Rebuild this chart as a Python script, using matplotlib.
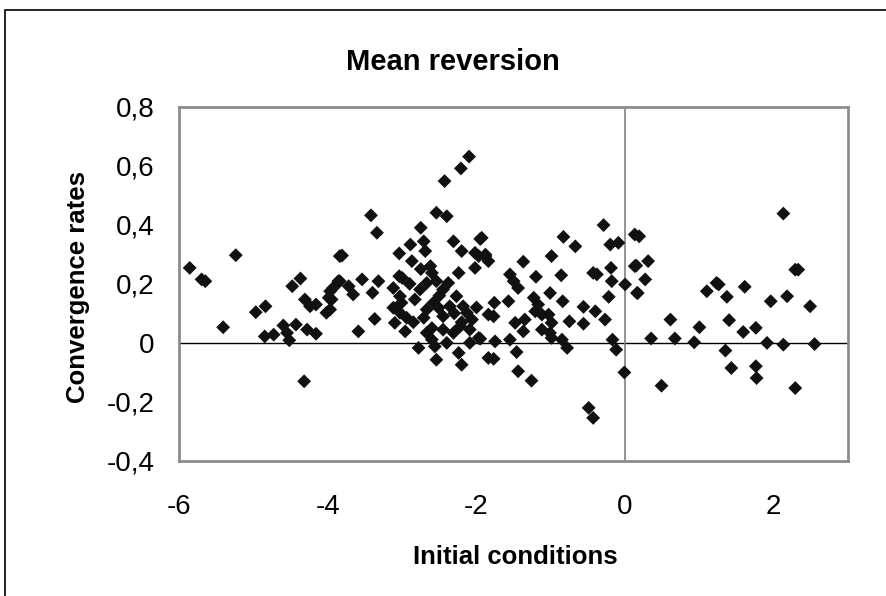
import matplotlib
matplotlib.use("Agg")
import matplotlib.pyplot as plt
from matplotlib.patches import Rectangle

# ---- data ----
x_vals = [
    -5.86, -5.70, -5.65, -5.24, -5.41, -4.97, -4.84, -4.85, -4.73, -4.60,
    -4.52, -4.55, -4.43, -4.48, -4.37, -4.32, -4.28, -4.16, -4.31, -4.24,
    -4.16, -4.02, -3.99, -3.97, -3.93, -3.86, -3.84,
    -2.10, -2.21, -2.43, -2.54, -2.40, -3.42, -3.34, -2.75, -3.81,
    -2.89, -2.71, -2.69, -3.04, -2.87, -2.31, -2.20, -1.95, -2.02, -1.88,
    -3.54, -3.32, -3.84, -3.72, -3.66, -3.95, -3.97, -3.40, -3.37, -3.59,
    -3.04, -3.12, -3.03, -3.01, -3.12, -3.03, -2.94, -3.10, -2.96,
    -2.83, -2.76, -2.67, -2.60, -2.54, -2.45, -2.38,
    -2.67, -2.60, -2.56, -2.54, -2.78, -2.24, -2.20, -2.45, -2.31, -2.22,
    -2.24, -2.02, -1.97, -2.09, -1.97, -1.84, -1.84,
    -2.71, -2.67, -2.58, -2.51, -2.45, -2.36, -2.27, -2.18, -2.13, -2.06, -2.09,
    -2.62, -2.90, -2.75, -2.50, -2.30, -2.20, -2.00, -2.60, -2.40, -2.85, -3.00,
    -0.29, -0.83, -0.67, -0.20, -0.09, 0.13, -1.93, -1.88, -1.84, -0.99, -1.37,
    -1.55, -1.50, -1.44, -1.20, -0.86, -0.43, -0.38, -0.19, -0.18, 0.00, 0.13,
    -0.22, 0.16, -1.76, -1.77, -1.57, -1.23, -1.17, -1.21, -1.12, -1.01, -1.03,
    -0.99, -0.84, -1.48, -1.35, -1.37, -1.12, -1.01, -0.99, -0.85, -0.78,
    -0.75, -0.56, -0.56, -0.40, -0.27, -1.95, -1.75, -1.55, -1.46, -1.77,
    -1.44, -1.26, -0.17, -0.12, -0.01, -0.49, -0.43,
    0.19, 0.15, 0.31, 0.27, 0.17, 0.35, 0.61, 0.67, 0.49, 0.93, 1.00, 1.10,
    1.26, 1.23, 1.37, 1.61, 1.40, 1.59, 1.76, 1.35, 1.43, 1.76, 1.77, 1.91,
    1.96, 2.13, 2.18, 2.13, 2.29, 2.33, 2.29, 2.49, 2.55,
]
y_vals = [
    0.254, 0.215, 0.209, 0.297, 0.053, 0.104, 0.124, 0.022, 0.028, 0.059,
    0.009, 0.034, 0.062, 0.192, 0.218, -0.130, 0.045, 0.031, 0.147, 0.124,
    0.130, 0.102, 0.153, 0.175, 0.186, 0.209, 0.294,
    0.631, 0.591, 0.548, 0.441, 0.429, 0.432, 0.373, 0.390, 0.296,
    0.333, 0.344, 0.311, 0.303, 0.277, 0.344, 0.311, 0.352, 0.305, 0.294,
    0.215, 0.209, 0.209, 0.192, 0.164, 0.147, 0.113, 0.170, 0.081, 0.039,
    0.226, 0.186, 0.158, 0.136, 0.119, 0.102, 0.085, 0.068, 0.039,
    0.147, 0.181, 0.203, 0.237, 0.209, 0.181, 0.203,
    0.034, 0.011, -0.012, -0.057, -0.017, -0.034, -0.074, 0.045, 0.034, 0.056,
    0.237, 0.254, 0.294, 0.000, 0.017, 0.096, -0.051,
    0.085, 0.113, 0.136, 0.119, 0.090, 0.124, 0.158, 0.124, 0.102, 0.079, 0.045,
    0.260, 0.200, 0.250, 0.160, 0.100, 0.070, 0.120, 0.050, 0.000, 0.070, 0.220,
    0.399, 0.359, 0.327, 0.333, 0.339, 0.367, 0.356, 0.299, 0.277, 0.294, 0.275,
    0.232, 0.209, 0.186, 0.224, 0.229, 0.237, 0.232, 0.254, 0.209, 0.198, 0.260,
    0.156, 0.169, 0.136, 0.090, 0.141, 0.153, 0.130, 0.107, 0.096, 0.169, 0.096,
    0.068, 0.141, 0.068, 0.079, 0.039, 0.045, 0.034, 0.017, 0.011, -0.017,
    0.073, 0.065, 0.122, 0.107, 0.079, 0.014, 0.005, 0.011, -0.031, -0.054,
    -0.096, -0.128, 0.011, -0.023, -0.100, -0.220, -0.254,
    0.361, 0.262, 0.277, 0.215, 0.169, 0.015, 0.079, 0.015, -0.145, 0.002, 0.053, 0.175,
    0.198, 0.203, 0.156, 0.190, 0.077, 0.037, 0.051, -0.026, -0.085, -0.079, -0.119, 0.000,
    0.141, 0.438, 0.158, -0.006, 0.248, 0.248, -0.153, 0.124, -0.004,
]
x_ticks = [-6, -4, -2, 0, 2]
x_tick_labels = ["-6", "-4", "-2", "0", "2"]
y_ticks = [-0.4, -0.2, 0.0, 0.2, 0.4, 0.6, 0.8]
y_tick_labels = ["-0,4", "-0,2", "0", "0,2", "0,4", "0,6", "0,8"]
title = "Mean reversion"
x_label = "Initial conditions"
y_label = "Convergence rates"

# ---- figure ----
W, H = 886, 596
plt.rcParams["font.family"] = ["Liberation Sans", "DejaVu Sans"]
fig = plt.figure(figsize=(W / 100, H / 100), dpi=100)

# outer chart border (cropped at right/bottom)
fig.patches.append(Rectangle((5 / W, -0.1), 1.2, 1 - 10 / H + 0.1,
                             transform=fig.transFigure, fill=False,
                             edgecolor="black", linewidth=1.2))

left, right, top, bottom = 179.3, 848, 106.7, 461
ax = fig.add_axes([left / W, 1 - bottom / H, (right - left) / W, (bottom - top) / H])
ax.set_xlim(-6, 3)
ax.set_ylim(-0.4, 0.8)

ax.axhline(0, color="black", linewidth=1.0, zorder=1)
ax.axvline(0, color="#808080", linewidth=1.2, zorder=1)

ax.scatter(x_vals, y_vals, marker="D", s=50, color="#111111",
           edgecolors="none", zorder=3, clip_on=False)

for sp in ax.spines.values():
    sp.set_color("#8c8c8c")
    sp.set_linewidth(2.0)

ax.set_xticks(x_ticks)
ax.set_xticklabels(x_tick_labels)
ax.set_yticks(y_ticks)
ax.set_yticklabels(y_tick_labels)
ax.tick_params(axis="both", length=0, labelsize=20)
ax.tick_params(axis="y", pad=18)
ax.tick_params(axis="x", pad=24)

fig.text(452.5 / W, 1 - 62 / H, title, ha="center", va="center",
         fontsize=21, fontweight="bold")
fig.text(515 / W, 1 - 557 / H, x_label, ha="center", va="center",
         fontsize=18.5, fontweight="bold")
fig.text(78 / W, 1 - 287 / H, y_label, ha="center", va="center",
         fontsize=18.5, fontweight="bold", rotation=90)

fig.savefig("out.png", dpi=100)
